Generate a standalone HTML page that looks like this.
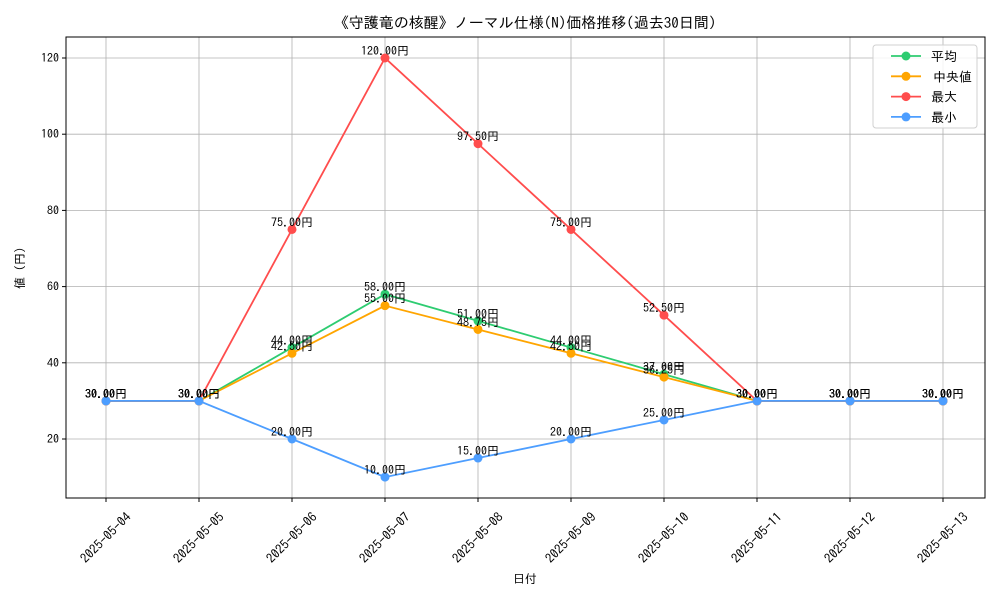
<!DOCTYPE html>
<html><head><meta charset="utf-8"><style>
body{margin:0;background:#fff}
svg text{font-family:"IPAGothic","Liberation Sans","Noto Sans CJK JP",sans-serif}
</style></head><body>
<svg id="c" width="1000" height="600" xmlns="http://www.w3.org/2000/svg"></svg>
<script>
const categories=["2025-05-04","2025-05-05","2025-05-06","2025-05-07","2025-05-08","2025-05-09","2025-05-10","2025-05-11","2025-05-12","2025-05-13"];
const avgValues=[30,30,44,58,51,44,37,30,30,30];
const medianValues=[30,30,42.5,55,48.75,42.5,36.25,30,30,30];
const maxValues=[30,30,75,120,97.5,75,52.5,30,30,30];
const minValues=[30,30,20,10,15,20,25,30,30,30];
const yTicks=[20,40,60,80,100,120];
const seriesNames=["平均","中央値","最大","最小"];
const NS="http://www.w3.org/2000/svg";
const svg=document.getElementById('c');
const L=66,R=985,T=37,B=498;
function xs(i){return 106+i*93;}
function ys(v){return 439-(v-20)*3.81;}
function mk(tag,attrs,parent){const e=document.createElementNS(NS,tag);for(const k in attrs)e.setAttribute(k,attrs[k]);(parent||svg).appendChild(e);return e;}
categories.forEach((c,i)=>{
  const g=mk('line',{x1:xs(i),x2:xs(i),y1:T,y2:B,stroke:'#b0b0b0','stroke-width':0.8});
  
  
  mk('line',{x1:xs(i),x2:xs(i),y1:B,y2:B+4,stroke:'#000'});
  const cx=xs(i),cy=B+40;
  const t=mk('text',{x:cx,y:cy+4,'font-size':13,'text-anchor':'middle',transform:`rotate(-45 ${cx} ${cy})`});
  
  
  t.textContent=c;
});
yTicks.forEach(v=>{
  const g=mk('line',{x1:L,x2:R,y1:ys(v),y2:ys(v),stroke:'#b0b0b0','stroke-width':0.8});
  
  
  mk('line',{x1:L-4,x2:L,y1:ys(v),y2:ys(v),stroke:'#000'});
  const t=mk('text',{x:L-7,y:ys(v)+4,'font-size':12,'text-anchor':'end'});
  
  
  t.textContent=v;
});
const frame=mk('rect',{x:L,y:T,width:R-L,height:B-T,fill:'none',stroke:'#000','stroke-width':1});


const series=[[avgValues,'#2ecc71'],[medianValues,'#ffa500'],[maxValues,'#ff4d4d'],[minValues,'#4d9eff']];
series.forEach(([vals,col],si)=>{
  const p=mk('polyline',{points:vals.map((v,i)=>xs(i)+','+ys(v)).join(' '),fill:'none',stroke:col,'stroke-width':1.8});
  
  
  vals.forEach((v,i)=>{
    const c=mk('circle',{cx:xs(i),cy:ys(v),r:4.5,fill:col});
    
    
  });
});
series.forEach(([vals])=>{
  vals.forEach((v,i)=>{
    const t=mk('text',{x:xs(i),y:ys(v)-3,'font-size':12,'text-anchor':'middle'});
    
    
    t.textContent=v.toFixed(2)+'円';
  });
});
const ti=mk('text',{x:525,y:28,'font-size':15,'text-anchor':'middle'});


ti.textContent='《守護竜の核醒》ノーマル仕様(N)価格推移(過去30日間)';
const xt=mk('text',{x:525,y:583,'font-size':12,'text-anchor':'middle'});


xt.textContent='日付';
const yt=mk('text',{x:24,y:268,'font-size':12,'text-anchor':'middle',transform:'rotate(-90 24 268)'});


yt.textContent='値 (円)';
const lg=mk('rect',{x:873,y:45,width:104,height:83,rx:3,fill:'#fff','fill-opacity':0.85,stroke:'#d0d0d0'});


series.forEach(([v,col],i)=>{
  const y=56+i*20.3;
  mk('line',{x1:891,x2:921,y1:y,y2:y,stroke:col,'stroke-width':1.8});
  mk('circle',{cx:906,cy:y,r:4.5,fill:col});
  const t=mk('text',{x:i==1?933:931,y:y+5,'font-size':13});
  
  
  t.textContent=seriesNames[i];
});
</script>
</body></html>
